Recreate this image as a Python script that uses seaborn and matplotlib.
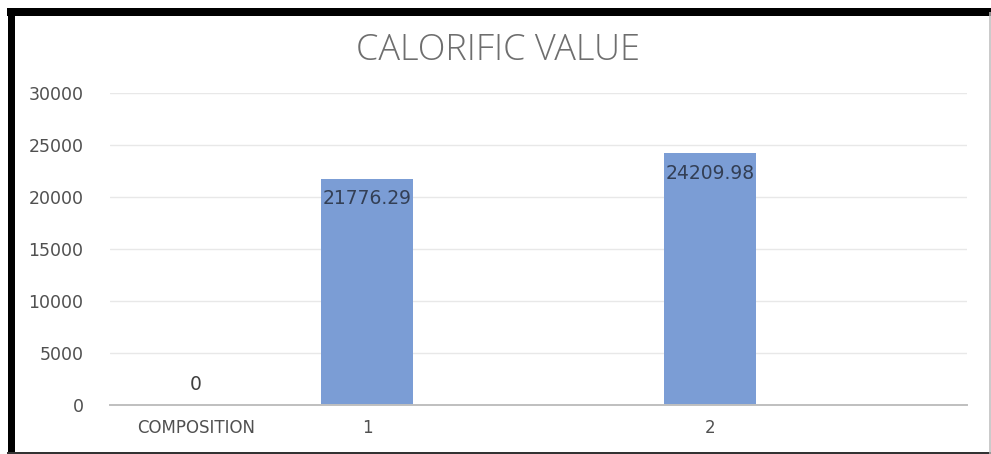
import matplotlib
matplotlib.use("Agg")
import matplotlib.pyplot as plt
from matplotlib.lines import Line2D
import seaborn as sns
import pandas as pd

# Chart data
categories = ["COMPOSITION", "1", "2"]
values = [0, 21776.29, 24209.98]
slots = [0, 1, 3]          # positions of the categories along the x axis
y_ticks = [0, 5000, 10000, 15000, 20000, 25000, 30000]
title = "CALORIFIC VALUE"

df = pd.DataFrame({"slot": slots, "value": values, "label": categories})

sns.set_theme(style="white")
plt.rcParams["font.family"] = ["DejaVu Sans"]

W, H = 991, 454
fig = plt.figure(figsize=(W / 100, H / 100), dpi=100)
fig.patch.set_facecolor("white")
ax = fig.add_axes([110 / W, 1 - 405 / H, (967 - 110) / W, (405 - 93) / H])

sns.barplot(data=df, x="slot", y="value", native_scale=True, width=0.54,
            color="#7B9DD5", saturation=1, linewidth=0, ax=ax, zorder=3)

ax.set_xlim(-0.5, 4.5)
ax.set_ylim(0, 30000)
ax.set_yticks(y_ticks)
ax.set_yticklabels([str(t) for t in y_ticks])
ax.set_xticks(slots)
ax.set_xticklabels(categories)
ax.set_xlabel("")
ax.set_ylabel("")

ax.tick_params(axis="y", length=0, pad=19, labelsize=12.5, labelcolor="#505050")
ax.tick_params(axis="x", length=0, pad=10, labelsize=12, labelcolor="#505050")

ax.grid(axis="y", color="#E8E8E8", linewidth=1.0, zorder=0)
ax.grid(axis="x", visible=False)
for side in ("left", "right", "top"):
    ax.spines[side].set_visible(False)
ax.spines["bottom"].set_color("#BFBFBF")
ax.spines["bottom"].set_linewidth(1.4)
ax.spines["bottom"].set_zorder(4)

# Value labels: inside the top of each bar, above the axis when the value is zero
for x, v in zip(slots, values):
    off = -14.4 if v > 0 else 14.4
    ax.annotate(f"{v:g}" if v == 0 else f"{v:.2f}", xy=(x, v), xytext=(0, off),
                textcoords="offset points", ha="center", va="center",
                fontsize=13.5, color="#333F55" if v > 0 else "#404040", zorder=5)

fig.text(498 / W, 1 - 51 / H, title, ha="center", va="center",
         fontsize=26, color="#6E6E6E", family=["Open Sans", "DejaVu Sans"],
         fontweight="light")

# Frame around the chart
def fline(x0, y0, x1, y1, lw_px, color):
    fig.add_artist(Line2D([x0 / W, x1 / W], [1 - y0 / H, 1 - y1 / H],
                          transform=fig.transFigure, color=color,
                          linewidth=lw_px * 0.72, solid_capstyle="butt"))

fline(10.5, 8, 10.5, 454, 7, "black")
fline(7, 12, 991, 12, 8, "black")
fline(7, 452.5, 991, 452.5, 2, "#333333")
fline(990, 12, 990, 454, 1.5, "#BBBBBB")

fig.savefig("out.png", dpi=100, facecolor="white")
